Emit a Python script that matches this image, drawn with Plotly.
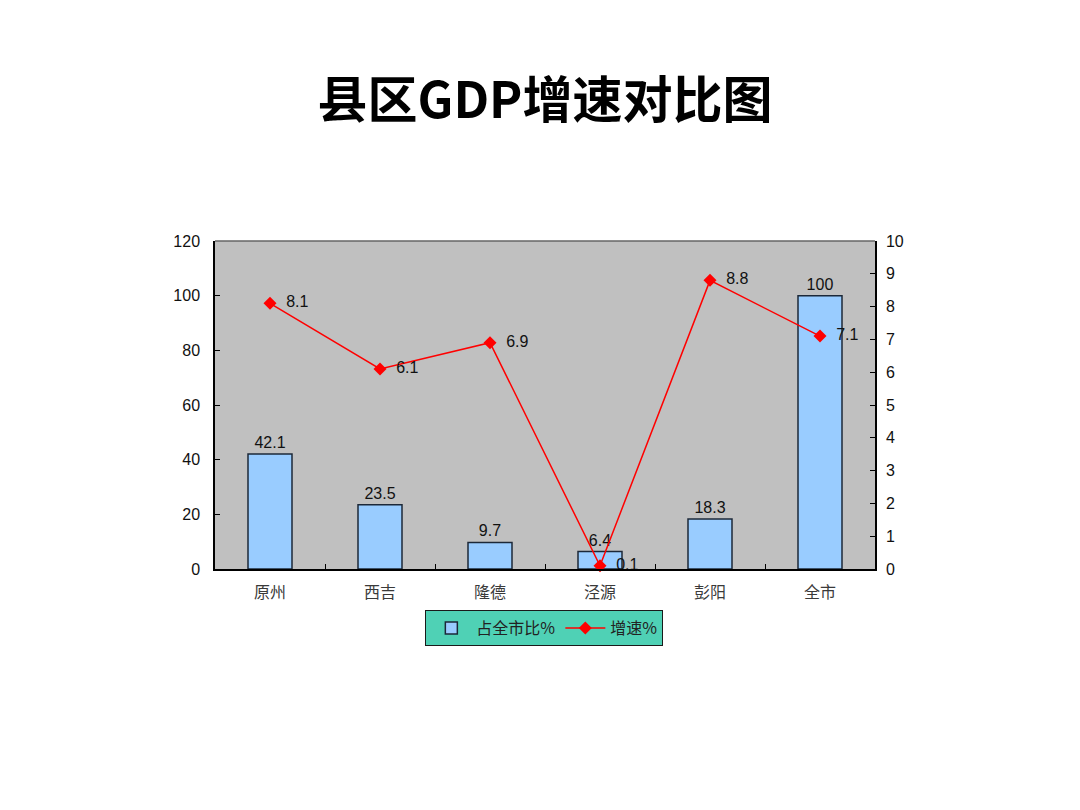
import plotly.graph_objects as go

# 县区GDP增速对比图
districts = ['原州', '西吉', '隆德', '泾源', '彭阳', '全市']
share_pct = [42.1, 23.5, 9.7, 6.4, 18.3, 100]   # 占全市比%
growth_pct = [8.1, 6.1, 6.9, 0.1, 8.8, 7.1]     # 增速%

left_ticks = [0, 20, 40, 60, 80, 100, 120]
right_ticks = list(range(0, 11))

num_font = dict(family='Liberation Sans, Arial, sans-serif', size=16, color='#111111')
cjk_font = dict(family='Noto Sans CJK SC, sans-serif', size=16, color='#3a3a3a')

fig = go.Figure()

fig.add_trace(go.Bar(
    x=districts, y=share_pct, name='占全市比%',
    width=0.4,
    marker=dict(color='#99CCFF', line=dict(color='#1c2838', width=1.5)),
    text=[f'{v:g}' for v in share_pct],
    textposition='outside', textfont=num_font, cliponaxis=False,
))

fig.add_trace(go.Scatter(
    x=districts, y=growth_pct, name='增速%', yaxis='y2',
    mode='lines+markers+text',
    line=dict(color='#FF0000', width=1.5),
    marker=dict(symbol='diamond', size=10, color='#FF0000'),
    text=[f'  {v:g}' for v in growth_pct],
    textposition='middle right', textfont=num_font, cliponaxis=False,
))

fig.update_layout(
    width=1080, height=810,
    paper_bgcolor='white', plot_bgcolor='#C0C0C0',
    margin=dict(l=207, r=213, t=233, b=249),
    title=dict(text='<b>县区GDP增速对比图</b>', x=0.5, xref='paper', xanchor='center',
               y=0.886, yref='container', yanchor='middle',
               font=dict(family='Noto Sans CJK SC, sans-serif', size=50, color='#000000')),
    xaxis=dict(
        showline=True, linecolor='#000000', linewidth=1.5,
        ticks='inside', tickson='boundaries', ticklen=5, tickcolor='#000000',
        tickfont=cjk_font, showgrid=False, ticklabelstandoff=8,
    ),
    yaxis=dict(
        range=[0, 120], tickvals=left_ticks,
        showline=True, linecolor='#000000', linewidth=1.5,
        ticks='inside', ticklen=5, tickcolor='#000000',
        tickfont=num_font, showgrid=False, zeroline=False, ticklabelstandoff=10,
    ),
    yaxis2=dict(
        range=[0, 10], tickvals=right_ticks, overlaying='y', side='right',
        showline=True, linecolor='#000000', linewidth=1.5,
        ticks='inside', ticklen=5, tickcolor='#000000',
        tickfont=num_font, showgrid=False, zeroline=False, ticklabelstandoff=6,
    ),
    showlegend=True,
    legend=dict(
        orientation='h', x=0.499, xanchor='center', y=-0.125, yanchor='top',
        bgcolor='#4FD1B5', bordercolor='#1a1a1a', borderwidth=1,
        font=dict(family='Noto Sans CJK SC, sans-serif', size=16, color='#222222'),
        itemwidth=40, tracegroupgap=0,
    ),
    bargap=0.6,
)

# gray top border of the plot area
fig.add_shape(type='line', xref='paper', yref='paper', x0=0, x1=1, y0=1, y1=1,
              line=dict(color='#666666', width=1.5))

fig.write_html('out.html')
